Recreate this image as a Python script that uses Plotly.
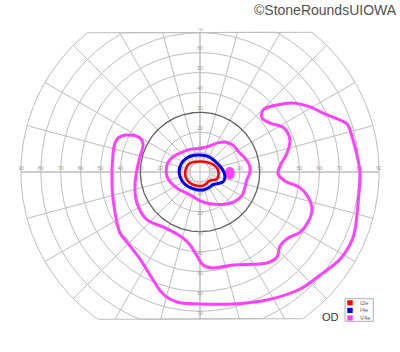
import numpy as np
import plotly.graph_objects as go

# ---------------- grid definition (degrees of visual field) ----------------
ring_radii = [10, 20, 40, 50, 60, 70, 80, 90]
dark_ring = 30
inner_ring = 5
spoke_step = 15
fine_spoke_step = 5
clip_top = 70.2
clip_bottom = -74.0
horiz_labels = [10, 20, 30, 40, 50, 60, 70, 80, 90]
vert_labels = [10, 20, 30, 40, 50, 60, 70]

# ---------------- isopters (x, y in degrees; right = temporal for OD) ----------------
series_names = ["I2e", "I4e", "V4e"]
series_colors = ["#ff0000", "#0000f0", "#ff40ff"]

i2e_x = [-7.5, -6.5, -5.0, 0.0, 4.0, 7.0, 8.8, 9.3, 8.5, 6.5, 4.5, 3.0, 1.0, -2.0, -5.0, -6.8]
i2e_y = [-1.0, 3.0, 4.5, 5.3, 4.8, 3.5, 1.5, -1.5, -3.5, -4.0, -4.5, -6.0, -7.0, -6.8, -5.5, -3.5]

i4e_x = [-10.5, -9.5, -7.0, -3.5, 0.0, 4.0, 7.5, 10.0, 12.0, 12.5, 11.5, 9.0, 6.5, 4.5, 1.5, -2.0, -6.0, -9.0]
i4e_y = [0.0, 4.0, 6.8, 8.3, 8.5, 7.8, 5.5, 3.0, 0.0, -3.0, -5.0, -5.8, -6.3, -7.8, -9.0, -8.8, -7.3, -4.5]

v4e_inner_x = [-17.0, -16.0, -13.0, -9.0, -4.5, 0.0, 4.5, 8.5, 13.0, 16.5, 19.5, 23.0, 25.0, 25.0,
               23.5, 22.5, 21.0, 17.0, 11.0, 5.0, 0.0, -5.0, -11.0, -14.5, -16.5]
v4e_inner_y = [1.0, 5.0, 8.0, 10.0, 11.5, 11.8, 13.0, 14.5, 15.0, 13.5, 10.0, 6.5, 3.0, -0.5,
               -4.0, -8.0, -12.0, -15.0, -16.3, -16.0, -14.5, -11.5, -8.5, -5.5, -2.5]

v4e_outer_x = [31.2, 31.7, 38.7, 46.7, 55.3, 61.8, 70.4, 73.9, 76.9, 79.4, 80.4, 79.4, 77.9, 76.4,
               70.4, 60.3, 50.3, 33.7, 16.6, 0.0, -11.6, -18.6, -25.1, -30.2, -36.7, -40.2, -42.7,
               -44.2, -43.7, -42.7, -41.2, -36.7, -30.2, -28.6, -30.2, -31.7, -32.7, -31.7, -26.6,
               -18.6, -11.6, -8.5, -5.0, -1.5, 1.5, 6.5, 16.6, 33.7, 38.7, 40.2, 44.2, 50.3, 54.3,
               56.3, 54.3, 50.3, 42.7, 39.2, 40.2, 43.7, 45.2, 42.2, 35.2]
v4e_outer_y = [27.1, 31.2, 33.7, 34.7, 32.7, 29.6, 26.1, 24.1, 16.1, 6.0, -0.5, -15.6, -29.1, -34.2,
               -43.7, -51.8, -58.8, -64.3, -66.3, -66.3, -65.3, -61.3, -51.8, -43.7, -35.2, -30.7,
               -20.6, -7.5, 9.5, 14.6, 17.1, 18.6, 17.1, 13.6, 7.5, 1.0, -7.5, -15.6, -24.1, -27.6,
               -31.2, -33.2, -36.7, -42.2, -46.7, -48.2, -46.7, -45.7, -42.7, -37.2, -33.2, -30.2,
               -25.1, -19.1, -12.6, -8.0, -4.5, -1.0, 3.0, 9.5, 16.1, 22.1, 24.6]

blindspot_x = [12.8, 13.5, 15.0, 16.6, 17.2, 16.5, 15.0, 13.5]
blindspot_y = [-0.5, 1.8, 2.3, 1.5, -0.6, -2.9, -3.6, -2.8]

# ---------------- page geometry ----------------
W, H = 400, 352
CX, CY, S = 200.0, 172.0, 1.99
ML, MR, MT, MB = 19, 19, 28, 28
x_range = [(ML - CX) / S, (W - MR - CX) / S]
y_range = [(CY - (H - MB)) / S, (CY - MT) / S]


def px_to_paper(px, py):
    return (px - ML) / (W - ML - MR), ((H - MB) - py) / (H - MT - MB)


def closed(xs, ys):
    return list(xs) + [xs[0]], list(ys) + [ys[0]]


fig = go.Figure()

# rings (clamped to the top / bottom cut lines of the chart form)
theta = np.linspace(0, 2 * np.pi, 721)
gx, gy = [], []
for r in ring_radii:
    gx += list(r * np.cos(theta)) + [None]
    gy += list(np.clip(r * np.sin(theta), clip_bottom, clip_top)) + [None]
ix = list(inner_ring * np.cos(theta))
iy = list(inner_ring * np.sin(theta))
gx += ix + [None]
gy += iy + [None]

# spokes
rmax = ring_radii[-1]
for a in range(0, 360, spoke_step):
    t = np.radians(a)
    c, s_ = np.cos(t), np.sin(t)
    r_end = rmax
    if s_ > 1e-9:
        r_end = min(r_end, clip_top / s_)
    elif s_ < -1e-9:
        r_end = min(r_end, clip_bottom / s_)
    gx += [inner_ring * c, r_end * c, None]
    gy += [inner_ring * s_, r_end * s_, None]
# axes through centre
gx += [-rmax, rmax, None, 0, 0, None]
gy += [0, 0, None, clip_bottom, clip_top, None]

fig.add_trace(go.Scatter(x=gx, y=gy, mode="lines", hoverinfo="skip", showlegend=False,
                         line=dict(color="#bdbdbd", width=1)))

# fine spokes inside the 10 degree ring
fx, fy = [], []
for a in range(0, 360, fine_spoke_step):
    if a % spoke_step == 0:
        continue
    t = np.radians(a)
    fx += [inner_ring * np.cos(t), ring_radii[0] * np.cos(t), None]
    fy += [inner_ring * np.sin(t), ring_radii[0] * np.sin(t), None]
fig.add_trace(go.Scatter(x=fx, y=fy, mode="lines", hoverinfo="skip", showlegend=False,
                         line=dict(color="#d0d0d0", width=0.6)))

# dark 30 degree ring
fig.add_trace(go.Scatter(x=dark_ring * np.cos(theta), y=dark_ring * np.sin(theta), mode="lines",
                         hoverinfo="skip", showlegend=False, line=dict(color="#606060", width=1.3)))

# tick labels
lab_x = [-v for v in horiz_labels] + horiz_labels + [0] * len(vert_labels) * 2
lab_y = [1.5] * len(horiz_labels) * 2 + [v + 1.7 for v in vert_labels] + [-(v + 1.1) for v in vert_labels]
lab_t = [str(v) for v in horiz_labels] * 2 + [str(v) for v in vert_labels] * 2
fig.add_trace(go.Scatter(x=lab_x, y=lab_y, text=lab_t, mode="text", hoverinfo="skip", showlegend=False,
                         textfont=dict(size=5, color="#9a9a9a", family="Liberation Sans")))

# isopters
line_kw = dict(shape="spline", smoothing=1.0)
ox, oy = closed(v4e_outer_x, v4e_outer_y)
fig.add_trace(go.Scatter(x=ox, y=oy, mode="lines", name="V4e", showlegend=False,
                         line=dict(color=series_colors[2], width=3, **line_kw)))
vx, vy = closed(v4e_inner_x, v4e_inner_y)
fig.add_trace(go.Scatter(x=vx, y=vy, mode="lines", name="V4e", showlegend=False,
                         line=dict(color=series_colors[2], width=3, **line_kw)))
bx, by = closed(blindspot_x, blindspot_y)
fig.add_trace(go.Scatter(x=bx, y=by, mode="lines", fill="toself", fillcolor=series_colors[2],
                         name="V4e", showlegend=False,
                         line=dict(color=series_colors[2], width=1, **line_kw)))
bx4, by4 = closed(i4e_x, i4e_y)
fig.add_trace(go.Scatter(x=bx4, y=by4, mode="lines", name="I4e", showlegend=False,
                         line=dict(color=series_colors[1], width=3, **line_kw)))
rx2, ry2 = closed(i2e_x, i2e_y)
fig.add_trace(go.Scatter(x=rx2, y=ry2, mode="lines", name="I2e", showlegend=False,
                         line=dict(color=series_colors[0], width=2.5, **line_kw)))

# ---------------- manual legend box ----------------
shapes = []
annotations = []
x0, y0 = px_to_paper(345, 298.7)
x1, y1 = px_to_paper(373.3, 321.3)
shapes.append(dict(type="rect", xref="paper", yref="paper", x0=x0, y0=y1, x1=x1, y1=y0,
                   line=dict(color="#b0b0b0", width=1), fillcolor="white", layer="above"))
for k, (nm, col) in enumerate(zip(series_names, series_colors)):
    cy = 302.8 + k * 7.6
    a0, b0 = px_to_paper(347.3, cy - 2.6)
    a1, b1 = px_to_paper(352.7, cy + 2.6)
    shapes.append(dict(type="rect", xref="paper", yref="paper", x0=a0, y0=b1, x1=a1, y1=b0,
                       line=dict(width=0), fillcolor=col, layer="above"))
    tx, ty = px_to_paper(357.5, cy)
    annotations.append(dict(xref="paper", yref="paper", x=tx, y=ty, text=nm, showarrow=False,
                            xanchor="left", yanchor="middle",
                            font=dict(size=6, color="#666666", family="Liberation Sans")))

ox_, oy_ = px_to_paper(330, 317)
annotations.append(dict(xref="paper", yref="paper", x=ox_, y=oy_, text="OD", showarrow=False,
                        xanchor="center", yanchor="middle",
                        font=dict(size=11, color="#333333", family="Liberation Sans")))
wx, wy = px_to_paper(399, 10)
annotations.append(dict(xref="paper", yref="paper", x=wx, y=wy, text="©StoneRoundsUIOWA",
                        showarrow=False, xanchor="right", yanchor="middle",
                        font=dict(size=14, color="#505050", family="Liberation Sans")))

fig.update_layout(
    width=W, height=H,
    margin=dict(l=ML, r=MR, t=MT, b=MB, pad=0),
    paper_bgcolor="white", plot_bgcolor="white",
    showlegend=False,
    xaxis=dict(range=x_range, visible=False, fixedrange=True),
    yaxis=dict(range=y_range, visible=False, fixedrange=True),
    shapes=shapes, annotations=annotations,
)

fig.write_html("out.html", config={"displayModeBar": False})
